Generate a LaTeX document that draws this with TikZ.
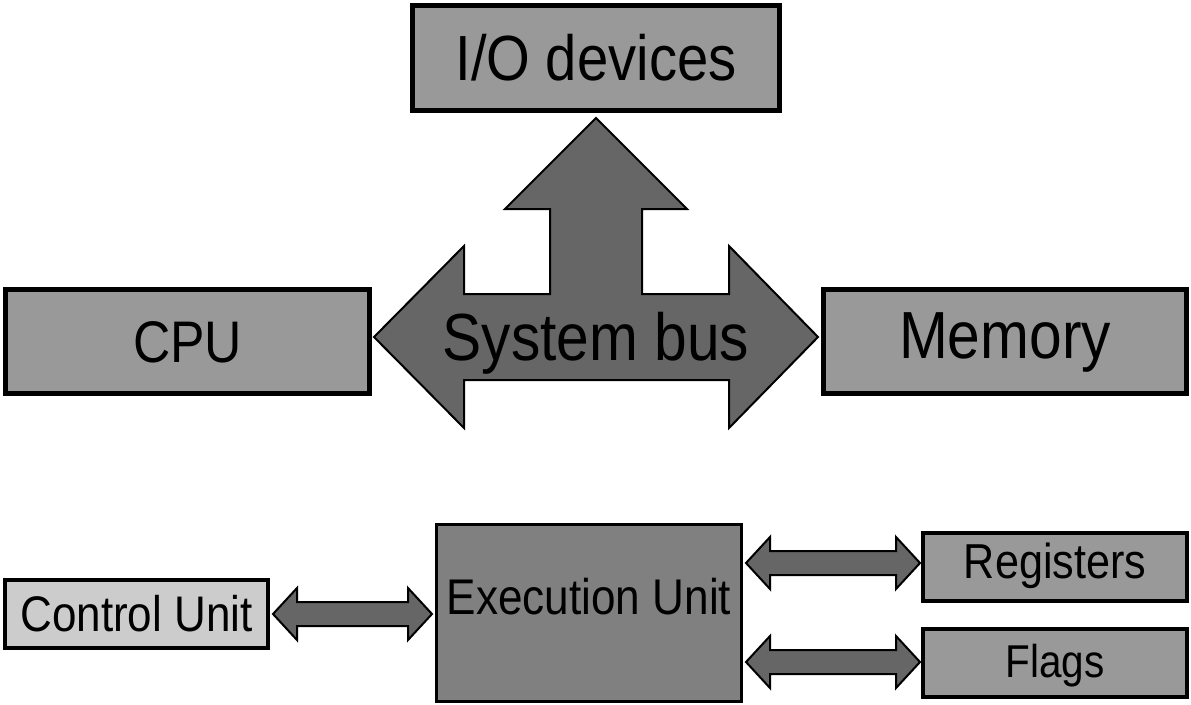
\documentclass[tikz,border=0pt]{standalone}
\usepackage{fontspec}
\setmainfont{Liberation Sans}[FakeStretch=0.88]
\definecolor{boxgrey}{HTML}{999999}
\definecolor{ctrlgrey}{HTML}{CCCCCC}
\definecolor{execgrey}{HTML}{808080}
\definecolor{busgrey}{HTML}{666666}
\tikzset{
  unitbox/.style={rectangle, draw=black, inner sep=0pt},
  bigbox/.style={unitbox, fill=boxgrey, line width=3.75pt},
  smallbox/.style={unitbox, line width=3pt},
  busarrow/.style={draw=black, fill=busgrey, line width=1.5pt, line join=miter},
  fs/.style={font=\fontsize{#1}{#1}\selectfont},
}
% horizontal two-way block arrow: left tip x, right tip x, centre y
\newcommand\twowayarrow[3]{%
  \draw[busarrow] (#1,#3) -- ({#1+24},{#3-26}) -- ({#1+24},{#3-12})
    -- ({#2-24},{#3-12}) -- ({#2-24},{#3-26}) -- (#2,#3)
    -- ({#2-24},{#3+26}) -- ({#2-24},{#3+12}) -- ({#1+24},{#3+12})
    -- ({#1+24},{#3+26}) -- cycle;}
\begin{document}
\begin{tikzpicture}[x=0.75pt, y=-0.75pt]
\useasboundingbox (0,0) rectangle (1191,704);
\fill[white] (0,0) rectangle (1191,704);

% system level
\node[bigbox, minimum width=367*0.75pt, minimum height=105*0.75pt,
      fs=47.9pt, text height=34.3pt, text depth=0pt] (io) at (596,58) {I/O devices};
\node[bigbox, minimum width=364*0.75pt, minimum height=104*0.75pt,
      fs=44pt, text height=31.5pt, text depth=0pt] (cpu) at (187.5,341.5) {CPU};
\node[bigbox, minimum width=363*0.75pt, minimum height=104*0.75pt,
      fs=50pt, text height=35.8pt, text depth=10.5pt] (mem) at (1005,341.5) {Memory};

% the bus joining them
\draw[busarrow] (596,118) -- (687,209) -- (642,209) -- (642,294) -- (729,294)
  -- (729,246) -- (818,337) -- (729,428) -- (729,380) -- (464,380)
  -- (464,428) -- (374,337) -- (464,246) -- (464,294) -- (550,294)
  -- (550,209) -- (505,209) -- cycle;
\node[inner sep=0pt, fs=50pt, text height=35.8pt, text depth=0pt] (bus) at (596,337) {System bus};

% inside the CPU
\node[smallbox, fill=ctrlgrey, minimum width=263*0.75pt, minimum height=68*0.75pt,
      fs=37.5pt, text height=26.8pt, text depth=0pt] (cu) at (136.5,614) {Control Unit};
\node[smallbox, fill=execgrey, line width=2.25pt, minimum width=305*0.75pt, minimum height=177*0.75pt,
      fs=37.6pt, text height=26.9pt, text depth=24pt] (eu) at (589,613) {Execution Unit};
\node[smallbox, fill=boxgrey, minimum width=264*0.75pt, minimum height=68*0.75pt,
      fs=36.8pt, text height=26.3pt, text depth=9pt] (reg) at (1055,567) {Registers};
\node[smallbox, fill=boxgrey, minimum width=264*0.75pt, minimum height=68*0.75pt,
      fs=34.5pt, text height=24.7pt, text depth=3pt] (flags) at (1055,663) {Flags};

\twowayarrow{273}{432}{614}
\twowayarrow{746}{920}{563}
\twowayarrow{746}{920}{662}
\end{tikzpicture}
\end{document}
